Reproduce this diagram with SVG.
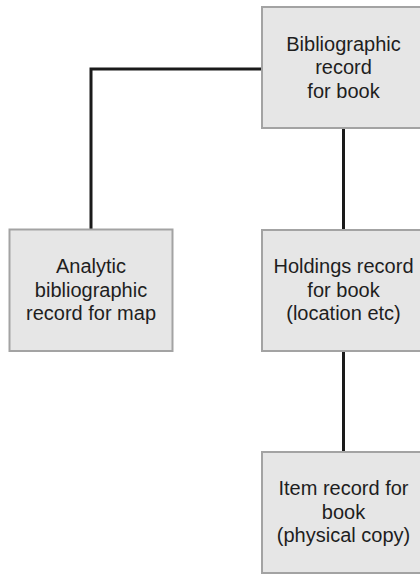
<svg xmlns="http://www.w3.org/2000/svg" width="420" height="575" viewBox="0 0 420 575">
<style>
.box{fill:#e6e6e6;stroke:#a3a3a3;stroke-width:2}
.lbl{font-family:"Liberation Sans",Arial,sans-serif;font-size:20px;fill:#1e1e1e;text-anchor:middle}
.conn{fill:none;stroke:#1a1a1a;stroke-width:3}
</style>
<rect width="420" height="575" fill="#ffffff"/>
<g id="connectors">
<polyline class="conn" points="262,69 91,69 91,230"/>
<line class="conn" x1="343.5" y1="128" x2="343.5" y2="230"/>
<line class="conn" x1="343.5" y1="351" x2="343.5" y2="452"/>
</g>
<g id="bib-book">
<rect class="box" x="262" y="7" width="163" height="121"/>
<text class="lbl" x="343.5" y="50.8">Bibliographic</text>
<text class="lbl" x="343.5" y="74.3">record</text>
<text class="lbl" x="343.5" y="97.8">for book</text>
</g>
<g id="analytic-map">
<rect class="box" x="9.5" y="229.5" width="163" height="121.5"/>
<text class="lbl" x="91" y="273">Analytic</text>
<text class="lbl" x="91" y="296.5">bibliographic</text>
<text class="lbl" x="91" y="320">record for map</text>
</g>
<g id="holdings-book">
<rect class="box" x="262" y="230" width="163" height="121"/>
<text class="lbl" x="343.5" y="273.3">Holdings record</text>
<text class="lbl" x="343.5" y="296.8">for book</text>
<text class="lbl" x="343.5" y="320.3">(location etc)</text>
</g>
<g id="item-book">
<rect class="box" x="262" y="452" width="163" height="121"/>
<text class="lbl" x="343.5" y="495">Item record for</text>
<text class="lbl" x="343.5" y="518.8">book</text>
<text class="lbl" x="343.5" y="542.3">(physical copy)</text>
</g>
</svg>
